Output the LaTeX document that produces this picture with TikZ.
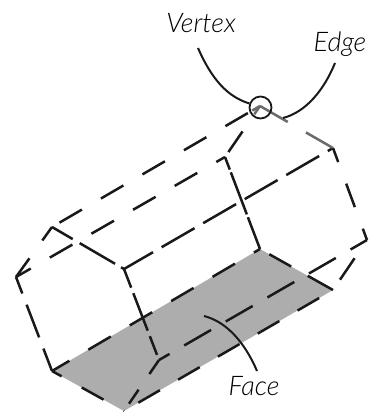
\documentclass[tikz,border=0pt]{standalone}
\usepackage{fontspec}
\newfontfamily\handfont{Lato Light Italic}
\usetikzlibrary{positioning,calc}

\begin{document}
\begin{tikzpicture}[x=1pt, y=-1pt]
    \tikzstyle{wire} = [line width=2.5pt, draw=black!90]
    \tikzstyle{edgegray} = [line width=2.5pt, draw=black!58]
    \tikzstyle{leader} = [line width=2pt, draw=black!90]
    \tikzstyle{tag} = [font=\handfont\fontsize{27}{27}\selectfont, inner sep=0pt]

    \useasboundingbox (0,0) rectangle (374,412);

    % back hexagon
    \coordinate (b1) at (260,106);
    \coordinate (b2) at (333,148);
    \coordinate (b3) at (367,240);
    \coordinate (b4) at (333,290);
    \coordinate (b5) at (260,249);
    \coordinate (b6) at (225,157);
    % front hexagon
    \coordinate (f1) at (52,227);
    \coordinate (f2) at (124,269);
    \coordinate (f3) at (159,360);
    \coordinate (f4) at (124,411);
    \coordinate (f5) at (52,371);
    \coordinate (f6) at (16,277);

    \fill [black!32] (b4) -- (b5) -- (f5) -- (f4) -- cycle;

    % long edges
    \draw [wire, dash pattern=on 26pt off 22pt, dash phase=34pt] (b1) -- (f1);
    \draw [wire, dash pattern=on 26pt off 22pt, dash phase=16pt] (b6) -- (f6);
    \draw [wire, dash pattern=on 38pt off 10pt, dash phase=32pt] (b2) -- (f2);
    \draw [wire, dash pattern=on 31pt off 17pt, dash phase=12pt] (b3) -- (f3);
    \draw [wire, dash pattern=on 26pt off 22pt, dash phase=19pt] (b5) -- (f5);
    \draw [wire, dash pattern=on 25pt off 21pt, dash phase=30pt] (b4) -- (f4);

    % back hexagon edges
    \draw [edgegray, dash pattern=on 32pt off 21pt] (b1) -- (b2);
    \draw [edgegray] (b1) -- ($(b1)!9pt!(f1)$);
    \draw [edgegray] (b1) -- ($(b1)!10pt!(b6)$);
    \draw [wire, dash pattern=on 25pt off 23pt, dash phase=10pt] (b2) -- (b3);
    \draw [wire, dash pattern=on 26pt off 22pt, dash phase=26pt] (b3) -- (b4);
    \draw [wire, dash pattern=on 29pt off 19pt on 25pt off 20pt] (b4) -- (b5);
    \draw [wire, dash pattern=on 34pt off 3pt on 45pt off 3pt] (b5) -- (b6);
    \draw [wire, dash pattern=on 25pt off 40pt, dash phase=-6pt] (b6) -- (b1);

    % front hexagon edges
    \draw [wire, dash pattern=on 24pt off 8pt on 41pt off 7pt] (f1) -- (f2);
    \draw [wire, dash pattern=on 20pt off 6pt on 40pt off 6pt] (f2) -- (f3);
    \draw [wire, dash pattern=on 17pt off 19pt] (f3) -- (f4);
    \draw [wire, dash pattern=on 11pt off 23pt on 25pt off 23pt] (f5) -- (f4);
    \draw [wire, dash pattern=on 24pt off 12pt on 35pt off 12pt] (f5) -- (f6);
    \draw [wire, dash pattern=on 23pt off 22pt] (f6) -- (f1);

    \node [draw=black!90, line width=1.8pt, circle, minimum size=22pt, inner sep=0pt] (vertexring) at (260.5,107.5) {};

    \node [tag] (vertex) at (201,23) {Vertex};
    \node [tag] (edge) at (340,44) {Edge};
    \node [tag] (face) at (254,386) {Face};
    \coordinate (edgeend) at (283,118);
    \coordinate (facestart) at (204,316);

    \draw [leader] (198,48) .. controls (212,80) and (228,97) .. (vertexring.160);
    \draw [leader] (335,63) .. controls (324,90) and (306,112) .. (edgeend);
    \draw [leader] (facestart) .. controls (228,322) and (246,345) .. (257,371);
\end{tikzpicture}
\end{document}
